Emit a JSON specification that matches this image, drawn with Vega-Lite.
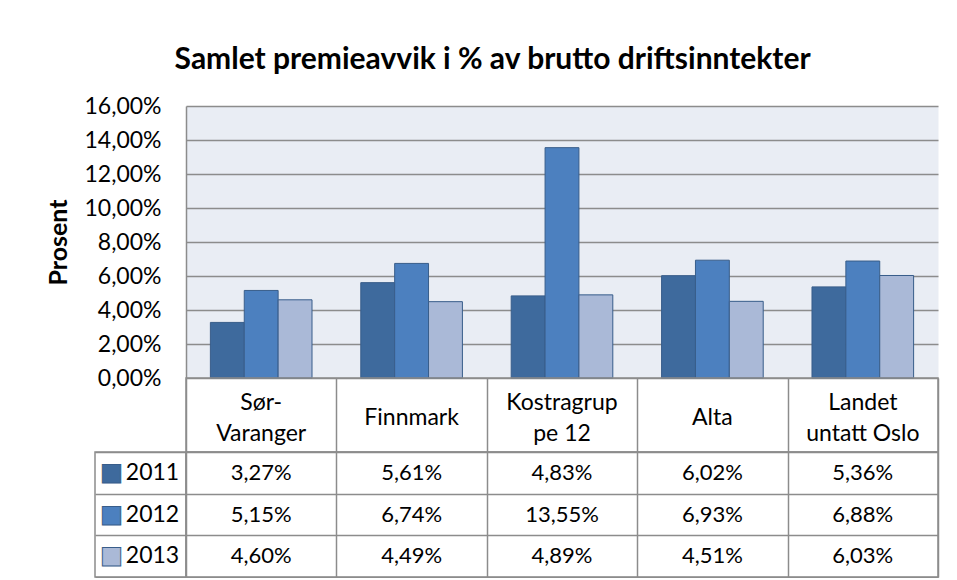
{
  "$schema": "https://vega.github.io/schema/vega-lite/v6.json",
  "background": "white",
  "padding": {"left": 46, "top": 44, "right": 5, "bottom": 0},
  "title": {
    "text": "Samlet premieavvik i % av brutto driftsinntekter",
    "font": "Lato",
    "fontSize": 30,
    "fontWeight": "bold",
    "color": "#000000",
    "anchor": "middle",
    "offset": 20
  },
  "datasets": {
    "bars": [
      {"kommune": "Sør-Varanger", "year": "2011", "value": 0.0327},
      {"kommune": "Sør-Varanger", "year": "2012", "value": 0.0515},
      {"kommune": "Sør-Varanger", "year": "2013", "value": 0.0460},
      {"kommune": "Finnmark", "year": "2011", "value": 0.0561},
      {"kommune": "Finnmark", "year": "2012", "value": 0.0674},
      {"kommune": "Finnmark", "year": "2013", "value": 0.0449},
      {"kommune": "Kostragruppe 12", "year": "2011", "value": 0.0483},
      {"kommune": "Kostragruppe 12", "year": "2012", "value": 0.1355},
      {"kommune": "Kostragruppe 12", "year": "2013", "value": 0.0489},
      {"kommune": "Alta", "year": "2011", "value": 0.0602},
      {"kommune": "Alta", "year": "2012", "value": 0.0693},
      {"kommune": "Alta", "year": "2013", "value": 0.0451},
      {"kommune": "Landet untatt Oslo", "year": "2011", "value": 0.0536},
      {"kommune": "Landet untatt Oslo", "year": "2012", "value": 0.0688},
      {"kommune": "Landet untatt Oslo", "year": "2013", "value": 0.0603}
    ],
    "cats": [
      {"kommune": "Sør-Varanger", "label": "Sør-\nVaranger", "lines": 2},
      {"kommune": "Finnmark", "label": "Finnmark", "lines": 1},
      {"kommune": "Kostragruppe 12", "label": "Kostragrup\npe 12", "lines": 2},
      {"kommune": "Alta", "label": "Alta", "lines": 1},
      {"kommune": "Landet untatt Oslo", "label": "Landet\nuntatt Oslo", "lines": 2}
    ],
    "years": [
      {"year": "2011"},
      {"year": "2012"},
      {"year": "2013"}
    ]
  },
  "columns": 2,
  "spacing": 0,
  "bounds": "flush",
  "concat": [
    {
      "width": 91,
      "height": 272,
      "data": {"name": "years"},
      "mark": {"type": "text", "opacity": 0},
      "encoding": {"text": {"value": ""}},
      "view": {"stroke": "transparent"}
    },
    {
      "width": 752,
      "height": 272,
      "data": {"name": "bars"},
      "view": {"stroke": "transparent", "fill": "#E9EDF4"},
      "mark": {"type": "bar", "stroke": "#385D8A", "strokeWidth": 1},
      "encoding": {
        "x": {
          "field": "kommune",
          "type": "nominal",
          "sort": ["Sør-Varanger", "Finnmark", "Kostragruppe 12", "Alta", "Landet untatt Oslo"],
          "scale": {"paddingInner": 0, "paddingOuter": 0},
          "axis": null
        },
        "xOffset": {
          "field": "year",
          "type": "nominal",
          "scale": {"paddingInner": 0, "paddingOuter": 0.72}
        },
        "y": {
          "field": "value",
          "type": "quantitative",
          "scale": {"domain": [0, 0.16], "nice": false},
          "axis": {
            "values": [0, 0.02, 0.04, 0.06, 0.08, 0.1, 0.12, 0.14, 0.16],
            "format": ".2%",
            "title": "Prosent",
            "titleFont": "Lato",
            "titleFontSize": 25,
            "titleFontWeight": "bold",
            "titleColor": "#000000",
            "titlePadding": 12,
            "labelFont": "Lato",
            "labelFontSize": 23,
            "labelColor": "#000000",
            "labelPadding": 25,
            "ticks": false,
            "grid": true,
            "gridColor": "#8C8C8C",
            "gridWidth": 1.5,
            "domain": true,
            "domainColor": "#8C8C8C",
            "domainWidth": 1.5
          }
        },
        "color": {
          "field": "year",
          "type": "nominal",
          "scale": {"domain": ["2011", "2012", "2013"], "range": ["#3E6A9D", "#4C80BF", "#AAB9D7"]},
          "legend": null
        }
      }
    },
    {
      "width": 91,
      "height": 74,
      "data": {"name": "years"},
      "mark": {"type": "text", "opacity": 0},
      "encoding": {"text": {"value": ""}},
      "view": {"stroke": "transparent"}
    },
    {
      "width": 752,
      "height": 74,
      "data": {"name": "cats"},
      "view": {"stroke": "#8C8C8C", "strokeWidth": 1.5},
      "encoding": {
        "x": {
          "field": "kommune",
          "type": "nominal",
          "sort": ["Sør-Varanger", "Finnmark", "Kostragruppe 12", "Alta", "Landet untatt Oslo"],
          "scale": {"paddingInner": 0, "paddingOuter": 0},
          "axis": {"tickBand": "extent", "grid": true, "gridColor": "#8C8C8C", "gridWidth": 1.5, "labels": false, "ticks": false, "domain": false, "title": null}
        },
        "text": {"field": "label"}
      },
      "layer": [
        {
          "transform": [{"filter": "datum.lines == 1"}],
          "mark": {"type": "text", "font": "Lato", "fontSize": 23, "color": "#000000", "baseline": "middle", "dy": 3}
        },
        {
          "transform": [{"filter": "datum.lines == 2"}],
          "mark": {"type": "text", "font": "Lato", "fontSize": 23, "color": "#000000", "lineBreak": "\n", "lineHeight": 31, "baseline": "middle", "dy": -12}
        }
      ]
    },
    {
      "width": 91,
      "height": 125,
      "data": {"name": "years"},
      "view": {"stroke": "#8C8C8C", "strokeWidth": 1.5},
      "encoding": {
        "y": {
          "field": "year",
          "type": "nominal",
          "scale": {"paddingInner": 0, "paddingOuter": 0},
          "axis": {"tickBand": "extent", "grid": true, "gridColor": "#8C8C8C", "gridWidth": 1.5, "labels": false, "ticks": false, "domain": false, "title": null}
        }
      },
      "layer": [
        {
          "mark": {"type": "text", "font": "DejaVu Sans", "fontSize": 24, "stroke": "#385D8A", "strokeWidth": 1, "dx": -29, "baseline": "middle"},
          "encoding": {
            "text": {"value": "■"},
            "color": {
              "field": "year",
              "type": "nominal",
              "scale": {"domain": ["2011", "2012", "2013"], "range": ["#3E6A9D", "#4C80BF", "#AAB9D7"]},
              "legend": null
            }
          }
        },
        {
          "mark": {"type": "text", "font": "Lato", "fontSize": 23, "color": "#000000", "dx": 12, "baseline": "middle"},
          "encoding": {"text": {"field": "year"}}
        }
      ]
    },
    {
      "width": 752,
      "height": 125,
      "data": {"name": "bars"},
      "view": {"stroke": "#8C8C8C", "strokeWidth": 1.5},
      "mark": {"type": "text", "font": "Lato", "fontSize": 22, "color": "#000000", "baseline": "middle"},
      "encoding": {
        "x": {
          "field": "kommune",
          "type": "nominal",
          "sort": ["Sør-Varanger", "Finnmark", "Kostragruppe 12", "Alta", "Landet untatt Oslo"],
          "scale": {"paddingInner": 0, "paddingOuter": 0},
          "axis": {"tickBand": "extent", "grid": true, "gridColor": "#8C8C8C", "gridWidth": 1.5, "labels": false, "ticks": false, "domain": false, "title": null}
        },
        "y": {
          "field": "year",
          "type": "nominal",
          "scale": {"paddingInner": 0, "paddingOuter": 0},
          "axis": {"tickBand": "extent", "grid": true, "gridColor": "#8C8C8C", "gridWidth": 1.5, "labels": false, "ticks": false, "domain": false, "title": null}
        },
        "text": {"field": "value", "type": "quantitative", "format": ".2%"}
      }
    }
  ],
  "config": {
    "locale": {
      "number": {"decimal": ",", "thousands": " ", "grouping": [3], "currency": ["", " kr"]}
    }
  }
}
